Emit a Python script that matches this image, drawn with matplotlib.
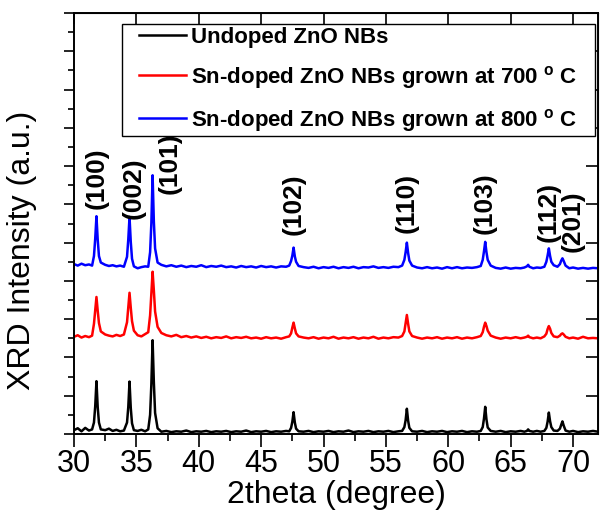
import matplotlib
matplotlib.use("Agg")
import matplotlib.pyplot as plt
from matplotlib.lines import Line2D
from matplotlib.legend_handler import HandlerLine2D
from matplotlib.ticker import MultipleLocator, NullFormatter

plt.rcParams['font.family'] = ['Liberation Sans', 'DejaVu Sans']
plt.rcParams['mathtext.fontset'] = 'custom'
plt.rcParams['mathtext.rm'] = 'Liberation Sans'
plt.rcParams['mathtext.bf'] = 'Liberation Sans:bold'

# 2theta sample points (shared by the three patterns), grouped by region
two_theta = [
    30.0, 30.3, 30.6, 30.9, 31.2, 31.45,
    31.6, 31.7, 31.8, 31.9, 32.0, 32.15,          # (100)
    32.5, 32.8, 33.1, 33.4, 33.7, 34.0,
    34.25, 34.35, 34.45, 34.55, 34.65, 34.8,      # (002)
    35.1, 35.4, 35.7, 35.95,
    36.1, 36.2, 36.3, 36.4, 36.5, 36.7,           # (101)
    37.0, 37.4, 37.8, 38.2, 38.6, 39.0, 39.4, 39.8, 40.2, 40.6, 41.0, 41.4, 41.8,
    42.2, 42.6, 43.0, 43.4, 43.8, 44.2, 44.6, 45.0, 45.4, 45.8, 46.2, 46.6, 47.0, 47.25,
    47.4, 47.5, 47.6, 47.7, 47.8, 48.0,           # (102)
    48.4, 48.8, 49.2, 49.6, 50.0, 50.4, 50.8, 51.2, 51.6, 52.0, 52.4,
    52.8, 53.2, 53.6, 54.0, 54.4, 54.8, 55.2, 55.6, 56.0, 56.3,
    56.48, 56.58, 56.68, 56.78, 56.88, 57.1,      # (110)
    57.5, 57.9, 58.3, 58.7, 59.1, 59.5, 59.9, 60.3, 60.7, 61.1, 61.5, 61.9, 62.3, 62.6,
    62.76, 62.86, 62.96, 63.06, 63.16, 63.4,      # (103)
    63.8, 64.2, 64.6, 65.0, 65.4, 65.8, 66.1,
    66.3, 66.4, 66.5,
    66.8, 67.1, 67.4, 67.7,
    67.86, 67.96, 68.06, 68.16, 68.26, 68.45,     # (112)
    68.75, 68.95, 69.05, 69.15, 69.25, 69.4,      # (201)
    69.7, 70.0, 70.4, 70.8, 71.2, 71.6, 72.0,
]

undoped = [
    0.10, 0.15, 0.07, 0.16, 0.09, 0.12,
    0.30, 0.72, 1.38, 0.70, 0.30, 0.12,
    0.10, 0.14, 0.08, 0.11, 0.07, 0.09,
    0.30, 0.70, 1.37, 0.68, 0.28, 0.10,
    0.08, 0.11, 0.07, 0.12,
    0.50, 1.30, 2.45, 1.35, 0.55, 0.15,
    0.06, 0.08, 0.05, 0.07, 0.06, 0.09, 0.05, 0.07, 0.06, 0.08, 0.05, 0.07, 0.06,
    0.08, 0.05, 0.07, 0.06, 0.09, 0.05, 0.07, 0.06, 0.08, 0.05, 0.07, 0.06, 0.08, 0.07,
    0.16, 0.32, 0.57, 0.30, 0.14, 0.07,
    0.06, 0.08, 0.05, 0.07, 0.06, 0.08, 0.05, 0.07, 0.06, 0.09, 0.05,
    0.07, 0.06, 0.08, 0.05, 0.07, 0.06, 0.08, 0.05, 0.07, 0.08,
    0.18, 0.36, 0.66, 0.35, 0.16, 0.07,
    0.06, 0.08, 0.05, 0.07, 0.06, 0.08, 0.05, 0.07, 0.06, 0.08, 0.05, 0.07, 0.06, 0.08,
    0.18, 0.40, 0.71, 0.38, 0.17, 0.08,
    0.06, 0.08, 0.05, 0.07, 0.06, 0.08, 0.06,
    0.08, 0.12, 0.08,
    0.06, 0.08, 0.06, 0.08,
    0.16, 0.32, 0.56, 0.33, 0.18, 0.09,
    0.08, 0.14, 0.24, 0.33, 0.22, 0.09,
    0.06, 0.08, 0.05, 0.07, 0.06, 0.08, 0.06,
]

sn_700 = [
    2.54, 2.58, 2.52, 2.56, 2.53, 2.57,
    2.88, 3.22, 3.58, 3.22, 2.90, 2.68,
    2.60, 2.57, 2.55, 2.59, 2.56, 2.60,
    2.92, 3.30, 3.69, 3.30, 2.95, 2.70,
    2.58, 2.55, 2.61, 2.66,
    3.10, 3.65, 4.24, 3.75, 3.20, 2.80,
    2.64, 2.58, 2.55, 2.59, 2.53, 2.56, 2.52, 2.55, 2.51, 2.54, 2.50, 2.53, 2.51,
    2.55, 2.50, 2.53, 2.51, 2.54, 2.50, 2.52, 2.49, 2.53, 2.50, 2.52, 2.49, 2.53, 2.55,
    2.63, 2.78, 2.91, 2.76, 2.63, 2.55,
    2.52, 2.50, 2.53, 2.49, 2.52, 2.50, 2.54, 2.49, 2.52, 2.50, 2.53,
    2.49, 2.52, 2.50, 2.54, 2.49, 2.52, 2.50, 2.53, 2.52, 2.56,
    2.68, 2.90, 3.11, 2.88, 2.68, 2.56,
    2.52, 2.49, 2.52, 2.50, 2.53, 2.49, 2.52, 2.50, 2.53, 2.49, 2.52, 2.50, 2.53, 2.56,
    2.66, 2.80, 2.91, 2.82, 2.70, 2.57,
    2.52, 2.49, 2.52, 2.50, 2.53, 2.50, 2.52,
    2.54, 2.57, 2.53,
    2.50, 2.52, 2.50, 2.55,
    2.62, 2.74, 2.82, 2.75, 2.64, 2.55,
    2.53, 2.57, 2.61, 2.63, 2.60, 2.54,
    2.50, 2.52, 2.49, 2.54, 2.50, 2.51, 2.50,
]

sn_800 = [
    4.44, 4.40, 4.45, 4.41, 4.43, 4.40,
    4.65, 5.10, 5.69, 5.08, 4.65, 4.48,
    4.42, 4.39, 4.41, 4.38, 4.40, 4.37,
    4.63, 5.08, 5.67, 5.02, 4.58, 4.38,
    4.33, 4.36, 4.38, 4.37,
    4.75, 5.50, 6.76, 5.55, 4.85, 4.48,
    4.42, 4.38, 4.41, 4.37, 4.40, 4.36, 4.39, 4.37, 4.41, 4.36, 4.39, 4.37, 4.40,
    4.36, 4.38, 4.35, 4.39, 4.36, 4.38, 4.35, 4.39, 4.36, 4.38, 4.35, 4.38, 4.37, 4.40,
    4.52, 4.66, 4.87, 4.64, 4.50, 4.39,
    4.36, 4.34, 4.37, 4.33, 4.36, 4.34, 4.37, 4.33, 4.36, 4.34, 4.37,
    4.33, 4.36, 4.35, 4.38, 4.34, 4.36, 4.34, 4.37, 4.36, 4.40,
    4.55, 4.75, 5.00, 4.73, 4.53, 4.40,
    4.35, 4.33, 4.36, 4.33, 4.35, 4.32, 4.36, 4.33, 4.36, 4.33, 4.35, 4.34, 4.36, 4.39,
    4.55, 4.77, 5.02, 4.75, 4.55, 4.40,
    4.34, 4.32, 4.35, 4.32, 4.34, 4.33, 4.35,
    4.38, 4.42, 4.37,
    4.33, 4.35, 4.34, 4.37,
    4.50, 4.66, 4.85, 4.65, 4.50, 4.41,
    4.37, 4.44, 4.53, 4.59, 4.52, 4.40,
    4.33, 4.35, 4.32, 4.34, 4.32, 4.34, 4.33,
]

series_labels = ['Undoped ZnO NBs',
                 r'Sn-doped ZnO NBs grown at 700 $^{\mathbf{o}}$ C',
                 r'Sn-doped ZnO NBs grown at 800 $^{\mathbf{o}}$ C']
series_colors = ['black', '#ff0000', '#0000ff']

# (hkl) labels: text, 2theta, intensity at label centre
hkl_text = ['(100)', '(002)', '(101)', '(102)', '(110)', '(103)', '(112)', '(201)']
hkl_x = [31.84, 34.81, 37.69, 47.63, 56.68, 62.93, 68.06, 69.98]
hkl_y = [6.68, 6.42, 7.08, 6.0, 6.03, 6.03, 5.8, 5.56]

fig = plt.figure(figsize=(6, 5.2), dpi=100)
ax = fig.add_axes([74/600, 1-434/520, 524/600, 421/520])

for ys, lab, col in zip([undoped, sn_700, sn_800], series_labels, series_colors):
    ax.plot(two_theta, ys, color=col, lw=1.8, label=lab)

for t, x, y in zip(hkl_text, hkl_x, hkl_y):
    ax.text(x, y, t, rotation=90, ha='center', va='center',
            fontsize=19, fontweight='bold')

ax.set_xlim(30, 72)
ax.set_ylim(0, 11)
ax.xaxis.set_major_locator(MultipleLocator(5))
ax.xaxis.set_minor_locator(MultipleLocator(2.5))
ax.yaxis.set_major_locator(MultipleLocator(1))
ax.yaxis.set_minor_locator(MultipleLocator(0.5))
ax.yaxis.set_major_formatter(NullFormatter())
ax.tick_params(axis='x', which='major', direction='out', length=9, width=1.2,
               labelsize=22, pad=2)
ax.tick_params(axis='x', which='minor', direction='out', length=5, width=1.2)
ax.tick_params(axis='y', which='major', direction='out', length=7, width=1.2)
ax.tick_params(axis='y', which='minor', direction='out', length=4, width=1.2)
for s in ax.spines.values():
    s.set_linewidth(1.4)

top = ax.secondary_xaxis('top')
top.xaxis.set_major_locator(MultipleLocator(5))
top.tick_params(direction='in', length=8, width=1.2, labeltop=False)
right = ax.secondary_yaxis('right')
right.yaxis.set_major_locator(MultipleLocator(1))
right.tick_params(direction='in', length=9, width=1.2, labelright=False)

ax.set_xlabel('2theta (degree)', fontsize=23)
ax.set_ylabel('XRD Intensity (a.u.)', fontsize=23)
ax.xaxis.set_label_coords(0.5, -0.11)
ax.yaxis.set_label_coords(-0.07, 0.437)

leg = ax.legend(loc='upper left', bbox_to_anchor=(48/524, 0.0, 473/524, 410/421),
                mode='expand', borderaxespad=0, fancybox=False, framealpha=1,
                edgecolor='black', prop={'weight': 'bold', 'size': 16},
                handlelength=2.75, handletextpad=0.25, borderpad=0.12, labelspacing=0.72,
                handler_map={Line2D: HandlerLine2D(xpad=0.63)})
leg.get_frame().set_linewidth(1.0)
leg.set_zorder(5)

fig.savefig('out.png', dpi=100)
